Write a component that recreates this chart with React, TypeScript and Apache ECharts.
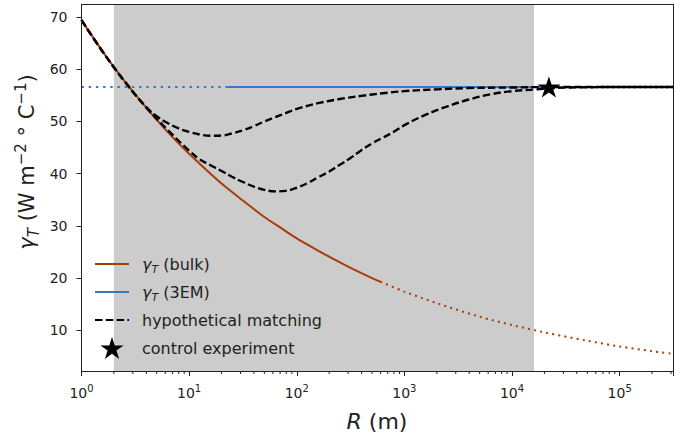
import React, { useEffect, useRef } from 'react';
import * as echarts from 'echarts';

// ---- axis ranges ----
const X_MIN = 1;
const X_MAX = 3.13e5;
const Y_MIN = 2.2;
const Y_MAX = 72.4;

// shaded R-range
const shadedRange = [2, 1.6e4];

// gamma_T (bulk): solid part
const bulkR = [1, 1.5, 2, 3, 5, 7, 10, 15, 20, 30, 50, 70, 100, 150, 200, 300, 500, 600];
const bulkVals = [69.4, 64.0, 60.4, 55.7, 50.3, 47.0, 43.8, 40.4, 38.1, 35.2, 31.7, 29.7, 27.6, 25.5, 24.1, 22.2, 20.0, 19.3];
// gamma_T (bulk): dotted extrapolation
const bulkExtR = [600, 1000, 2000, 5000, 1e4, 2e4, 5e4, 1e5, 2e5, 3.13e5];
const bulkExtVals = [19.3, 17.4, 15.2, 12.6, 11.0, 9.6, 8.0, 6.9, 6.0, 5.5];

// gamma_T (3EM)
const emDottedR = [1, 23];
const emDottedVals = [56.6, 56.6];
const emSolidR = [23, 3.13e5];
const emSolidVals = [56.6, 56.6];

// hypothetical matching curves
const upperR = [1, 1.58, 2.51, 3.98, 5, 6.3, 7.9, 10, 12.6, 15.8, 20, 25, 31.6, 40, 50, 63, 79, 100, 158, 251, 398, 631, 1000, 2000, 4000, 1e4, 2.5e4, 3.13e5];
const upperVals = [69.4, 63.3, 57.7, 52.8, 51.0, 49.7, 48.7, 48.0, 47.5, 47.25, 47.3, 47.7, 48.3, 49.1, 50.0, 50.8, 51.6, 52.4, 53.5, 54.3, 54.9, 55.4, 55.8, 56.15, 56.4, 56.5, 56.6, 56.6];
const lowerR = [1, 1.58, 2.51, 3.98, 6.3, 10, 12.6, 15.8, 20, 25, 31.6, 40, 50, 63, 79, 100, 126, 158, 200, 251, 316, 398, 501, 631, 794, 1000, 1585, 2512, 3981, 6310, 1e4, 1.6e4, 2.5e4, 5e4, 1e5, 3.13e5];
const lowerVals = [69.4, 63.3, 57.7, 52.7, 48.4, 44.4, 42.7, 41.6, 40.5, 39.4, 38.4, 37.5, 36.9, 36.6, 36.7, 37.3, 38.2, 39.3, 40.4, 41.7, 43.0, 44.5, 45.8, 46.9, 48.0, 49.3, 51.3, 52.9, 54.2, 55.2, 55.8, 56.1, 56.4, 56.55, 56.6, 56.6];

// control experiment
const controlR = [2.2e4];
const controlVals = [56.6];

// ticks
const yTicks = [10, 20, 30, 40, 50, 60, 70];
const xDecades = [1, 10, 100, 1e3, 1e4, 1e5];
const minorMultipliers = [2, 3, 4, 5, 6, 7, 8, 9];

const FONT = 'DejaVu Sans';
const INK = '#222222';
const RUST = '#a83c09';
const BLUE = '#3778bf';
const STAR = 'path://M0,-100L22.45,-30.9L95.1,-30.9L36.3,11.8L58.8,80.9L0,38.2L-58.8,80.9L-36.3,11.8L-95.1,-30.9L-22.45,-30.9Z';

const zip = (xs: number[], ys: number[]) => xs.map((x, i) => [x, ys[i]]);

const legendNames: Record<string, string> = {
  bulk: '{i|γ}{sub|T}{n| (bulk)}',
  em: '{i|γ}{sub|T}{n| (3EM)}',
  hyp: 'hypothetical matching',
  ctrl: 'control experiment',
};

export default function App() {
  const ref = useRef<HTMLDivElement>(null);
  useEffect(() => {
    if (!ref.current) return;
    const chart = echarts.init(ref.current, undefined, { renderer: 'svg' });
    const minorTicks: number[][] = [];
    xDecades.forEach((d) =>
      minorMultipliers.forEach((m) => {
        if (d * m <= X_MAX) minorTicks.push([d * m, Y_MIN]);
      })
    );

    const hiddenSymbol = { opacity: 0 };
    const dashed = { color: '#000000', width: 2.4, type: [7.5, 3.3] };

    const option: any = {
      animation: false,
      backgroundColor: '#ffffff',
      textStyle: { fontFamily: FONT },
      grid: {
        left: 81.5,
        right: 1,
        top: 4.5,
        bottom: 69,
        containLabel: false,
        outerBoundsMode: 'none',
      },
      xAxis: [
        {
          type: 'log',
          logBase: 10,
          min: X_MIN,
          max: X_MAX,
          z: 5,
          axisLine: { show: true, lineStyle: { color: INK, width: 1 } },
          axisTick: { show: true, length: 5, lineStyle: { color: INK, width: 1 } },
          minorTick: { show: false },
          splitLine: { show: false },
          axisLabel: {
            show: true,
            margin: 12,
            color: INK,
            fontFamily: FONT,
            fontSize: 14,
            lineHeight: 20,
            formatter: (v: number) => {
              const l = Math.log10(v);
              const e = Math.round(l);
              if (Math.abs(l - e) > 1e-6) return '';
              return '10{sup|' + e + '}';
            },
            rich: {
              sup: { fontSize: 10, fontFamily: FONT, color: INK, lineHeight: 16, verticalAlign: 'top' },
            },
          },
        },
        {
          type: 'log',
          logBase: 10,
          min: X_MIN,
          max: X_MAX,
          position: 'top',
          z: 5,
          axisLine: { show: true, lineStyle: { color: INK, width: 1 } },
          axisTick: { show: false },
          axisLabel: { show: false },
          splitLine: { show: false },
        },
      ],
      yAxis: [
        {
          type: 'value',
          min: Y_MIN,
          max: Y_MAX,
          z: 5,
          axisLine: { show: true, lineStyle: { color: INK, width: 1 } },
          axisTick: { show: true, length: 5, customValues: yTicks, lineStyle: { color: INK, width: 1 } },
          splitLine: { show: false },
          axisLabel: {
            show: true,
            customValues: yTicks,
            margin: 14,
            color: INK,
            fontFamily: FONT,
            fontSize: 14,
          },
        },
        {
          type: 'value',
          min: Y_MIN,
          max: Y_MAX,
          position: 'right',
          z: 5,
          axisLine: { show: true, lineStyle: { color: INK, width: 1 } },
          axisTick: { show: false },
          axisLabel: { show: false },
          splitLine: { show: false },
        },
      ],
      legend: {
        show: true,
        orient: 'vertical',
        left: 94,
        top: 253,
        padding: 0,
        itemWidth: 34,
        itemHeight: 22,
        itemGap: 6,
        data: [
          { name: 'bulk', itemStyle: hiddenSymbol },
          { name: 'em', itemStyle: hiddenSymbol },
          { name: 'hyp', itemStyle: hiddenSymbol },
          { name: 'ctrl', itemStyle: { color: '#000000', opacity: 1 } },
        ],
        formatter: (name: string) => legendNames[name] || name,
        textStyle: {
          fontFamily: FONT,
          fontSize: 16,
          color: INK,
          lineHeight: 22,
          padding: [0, 0, 0, 8],
          rich: {
            i: { fontFamily: FONT, fontStyle: 'italic', fontSize: 16, color: INK, lineHeight: 22 },
            sub: { fontFamily: FONT, fontStyle: 'italic', fontSize: 11, color: INK, lineHeight: 14, verticalAlign: 'bottom' },
            n: { fontFamily: FONT, fontSize: 16, color: INK, lineHeight: 22 },
          },
        },
      },
      graphic: [
        {
          type: 'text',
          x: 27,
          y: 162,
          rotation: Math.PI / 2,
          style: {
            text: '{i|γ}{sub|T}{n| (W m}{sup|−2}{n| ° C}{sup|−1}{n|)}',
            align: 'center',
            verticalAlign: 'middle',
            fill: INK,
            fontFamily: FONT,
            fontSize: 20,
            rich: {
              i: { fontFamily: FONT, fontStyle: 'italic', fontSize: 21, fill: INK, color: INK, lineHeight: 28 },
              sub: { fontFamily: FONT, fontStyle: 'italic', fontSize: 15, fill: INK, color: INK, lineHeight: 16, verticalAlign: 'bottom' },
              sup: { fontFamily: FONT, fontSize: 15, fill: INK, color: INK, lineHeight: 20, verticalAlign: 'top' },
              n: { fontFamily: FONT, fontSize: 21, fill: INK, color: INK, lineHeight: 28 },
            },
          },
        },
        {
          type: 'text',
          x: 377,
          y: 421,
          style: {
            text: '{i|R}{n| (m)}',
            align: 'center',
            verticalAlign: 'middle',
            fill: INK,
            fontFamily: FONT,
            fontSize: 21,
            rich: {
              i: { fontFamily: FONT, fontStyle: 'italic', fontSize: 22, fill: INK, color: INK },
              n: { fontFamily: FONT, fontSize: 22, fill: INK, color: INK },
            },
          },
        },
      ],
      series: [
        {
          name: 'bulk',
          type: 'line',
          data: zip(bulkR, bulkVals),
          symbol: 'none',
          smooth: 0.3,
          lineStyle: { color: RUST, width: 2 },
          itemStyle: { color: RUST },
          z: 3,
          markArea: {
            silent: true,
            itemStyle: { color: '#cccccc' },
            data: [[{ xAxis: shadedRange[0] }, { xAxis: shadedRange[1] }]],
          },
        },
        {
          name: 'bulkExt',
          type: 'line',
          data: zip(bulkExtR, bulkExtVals),
          symbol: 'none',
          smooth: 0.3,
          lineStyle: { color: RUST, width: 2, type: [2, 4.2] },
          z: 3,
        },
        {
          name: 'emExt',
          type: 'line',
          data: zip(emDottedR, emDottedVals),
          symbol: 'none',
          lineStyle: { color: BLUE, width: 2, type: [2.4, 4.8] },
          z: 3,
        },
        {
          name: 'em',
          type: 'line',
          data: zip(emSolidR, emSolidVals),
          symbol: 'none',
          lineStyle: { color: BLUE, width: 2 },
          itemStyle: { color: BLUE },
          z: 3,
        },
        {
          name: 'hyp',
          type: 'line',
          data: zip(upperR, upperVals),
          symbol: 'none',
          smooth: 0.4,
          lineStyle: dashed,
          itemStyle: { color: '#000000' },
          z: 4,
        },
        {
          name: 'hyp',
          type: 'line',
          data: zip(lowerR, lowerVals),
          symbol: 'none',
          smooth: 0.4,
          lineStyle: dashed,
          z: 4,
        },
        {
          name: 'ctrl',
          type: 'scatter',
          data: zip(controlR, controlVals),
          symbol: STAR,
          symbolSize: [23, 22],
          symbolKeepAspect: true,
          itemStyle: { color: '#000000', opacity: 1 },
          z: 6,
        },
        {
          name: 'minorTicks',
          type: 'custom',
          data: minorTicks,
          silent: true,
          clip: false,
          z: 6,
          renderItem: (params: any, api: any) => {
            const p = api.coord([api.value(0), Y_MIN]);
            return {
              type: 'line',
              shape: { x1: p[0], y1: p[1], x2: p[0], y2: p[1] + 3 },
              style: { stroke: INK, lineWidth: 1 },
            };
          },
        },
      ],
    };
    chart.setOption(option);
    return () => chart.dispose();
  }, []);
  return (
    <div
      ref={ref}
      style={{ position: 'absolute', left: 0, top: 0, width: 674, height: 440 }}
    />
  );
}
